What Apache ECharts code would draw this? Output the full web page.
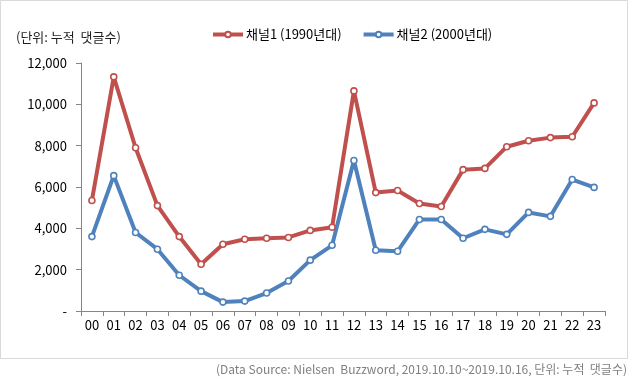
<!DOCTYPE html>
<html><head><meta charset="utf-8">
<script src="https://cdn.jsdelivr.net/npm/echarts@6/dist/echarts.min.js"></script>
<style>html,body{margin:0;padding:0;background:#fff}#c{width:630px;height:386px}</style>
</head><body><div id="c"></div>
<script>
const categories = ['00','01','02','03','04','05','06','07','08','09','10','11','12','13','14','15','16','17','18','19','20','21','22','23'];
const channel1 = [5350,11330,7900,5100,3600,2260,3230,3470,3520,3560,3900,4050,10650,5730,5830,5200,5060,6840,6900,7950,8240,8390,8430,10070];
const channel2 = [3600,6550,3800,2990,1730,960,430,480,870,1450,2460,3180,7280,2940,2890,4430,4430,3520,3950,3710,4770,4580,6360,5980];
const yTicks = [0,2000,4000,6000,8000,10000,12000];
const seriesNames = ['채널1 (1990년대)','채널2 (2000년대)'];
const unitText = '(단위: 누적  댓글수)';
const sourceText = '(Data Source: Nielsen  Buzzword, 2019.10.10~2019.10.16, 단위: 누적  댓글수)';

const font = '"Noto Sans CJK KR", "Noto Sans", sans-serif';
const chart = echarts.init(document.getElementById('c'), null, {renderer:'canvas'});
function mk(name, data, color){
  return {name, type:'line', data, symbol:'circle', symbolSize:6, showSymbol:true,
    lineStyle:{color, width:4}, itemStyle:{color:'#fff', borderColor:color, borderWidth:1.6},
    emphasis:{disabled:true}, z: 2};
}
chart.setOption({
  animation:false,
  textStyle:{fontFamily:font},
  graphic:[
    {type:'rect', shape:{x:0.5,y:0.5,width:627,height:358}, style:{fill:'none', stroke:'#d9d9d9', lineWidth:1}, z:-1},
    {type:'text', left:16, top:31, style:{text:unitText, font:'13px '+font, fill:'#1f1f1f'}},
    {type:'text', right:3, top:363, style:{text:sourceText, font:'12px '+font, fill:'#7f7f7f'}}
  ],
  legend:{top:28, left:211, padding:0, itemWidth:30, itemHeight:7, itemGap:20,
    textStyle:{fontSize:13, color:'#000', fontFamily:font, padding:[0,0,0,-2]},
    lineStyle:{width:4},
    data:[{name:seriesNames[0]},{name:seriesNames[1]}]},
  grid:{left:81, right:25, top:63, bottom:75, containLabel:false},
  xAxis:{type:'category', data:categories, boundaryGap:true,
    axisLine:{lineStyle:{color:'#868686', width:1}},
    axisTick:{show:true, length:5, interval:0, lineStyle:{color:'#868686'}},
    axisLabel:{color:'#000', fontSize:13, margin:8, interval:0, fontFamily:font}},
  yAxis:{type:'value', min:0, max:12000, interval:2000,
    axisLine:{show:true, lineStyle:{color:'#868686', width:1}},
    axisTick:{show:true, length:5, lineStyle:{color:'#868686'}},
    splitLine:{show:false},
    axisLabel:{color:'#000', fontSize:13, margin:14, fontFamily:font,
      formatter:v=> v===0 ? '-' : v.toLocaleString('en-US')}},
  series:[mk(seriesNames[0], channel1, '#C0504D'), mk(seriesNames[1], channel2, '#4F81BD')]
});
</script></body></html>
